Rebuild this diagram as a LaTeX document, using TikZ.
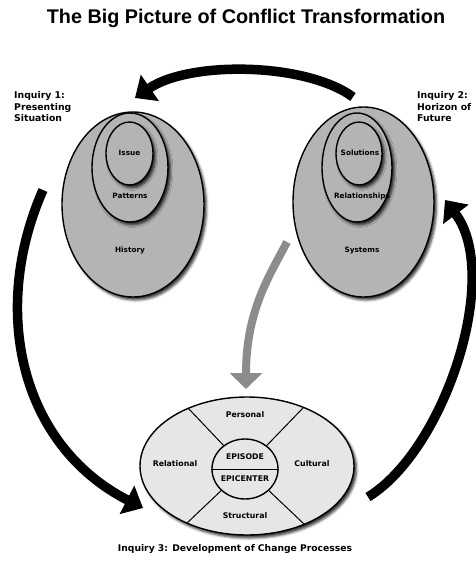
\documentclass[tikz,border=0pt]{standalone}
\usepackage{fontspec}
\setmainfont{DejaVu Sans}
\newfontfamily\titlefont{Liberation Sans}
\usetikzlibrary{shapes.geometric,arrows.meta,shadows.blur}
\definecolor{midgray}{HTML}{B4B4B4}
\definecolor{lightgray2}{HTML}{E6E6E6}
\definecolor{arrowgray}{HTML}{8C8C8C}
\begin{document}
\begin{tikzpicture}[x=1pt,y=-1pt,
  ell/.style={ellipse, draw=black, line width=1.4pt, inner sep=0pt},
  shad/.style={blur shadow={shadow xshift=2.5pt, shadow yshift=-3pt, shadow blur radius=2.5pt, shadow opacity=80}},
  grayell/.style={ell, shad, fill=midgray},
  lbl/.style={font=\bfseries\fontsize{7.3}{8}\selectfont, inner sep=0pt},
  blbl/.style={font=\bfseries\fontsize{7.8}{9}\selectfont, inner sep=0pt},
  inq/.style={font=\bfseries\fontsize{9.3}{11.5}\selectfont, align=left, anchor=north west, inner sep=0pt},
  bigarrow/.style={line width=9.5pt, -{Triangle[length=18pt,width=31pt]}},
  grayarrow/.style={line width=8pt, draw=arrowgray, -{Triangle[length=16pt,width=32pt]}},
  divline/.style={line width=1pt}
]
\useasboundingbox (0,0) rectangle (475,562);

% title
\node[font=\titlefont\bfseries\fontsize{19.8}{22}\selectfont, inner sep=0pt] (title) at (246,18.5) {The Big Picture of Conflict Transformation};

% inquiry labels
\node[inq] (inq1) at (14,91.5) {Inquiry 1:\\Presenting\\Situation};
\node[inq] (inq2) at (417,91.5) {Inquiry 2:\\Horizon of\\Future};

% arrows
\coordinate (t1) at (353,97);
\coordinate (t2) at (135,98);
\draw[bigarrow] (t1) .. controls (305,62) and (189,61) .. (t2);
\coordinate (l1) at (43,190);
\coordinate (l2) at (143,508);
\draw[bigarrow] (l1) .. controls (-10,310) and (20,445) .. (l2);
\coordinate (r1) at (368,497);
\coordinate (r2) at (445,200);
\draw[bigarrow] (r1) .. controls (445,450) and (502,275) .. (r2);
\coordinate (g1) at (287,242);
\coordinate (g2) at (246,389);
\draw[grayarrow] (g1) .. controls (270,275) and (246,310) .. (g2);

% left group
\node[grayell, minimum width=142pt, minimum height=185pt] (hist) at (133,204.5) {};
\node[grayell, minimum width=76pt, minimum height=109pt] (patt) at (130,167.5) {};
\node[grayell, minimum width=47pt, minimum height=63pt] (issue) at (129.5,153.5) {};
\node[lbl] (issuel) at (129.5,153) {Issue};
\node[lbl] (pattl) at (130,196) {Patterns};
\node[lbl] (histl) at (130,251) {History};

% right group
\node[grayell, minimum width=141pt, minimum height=190pt] (sys) at (363.5,202) {};
\node[grayell, minimum width=70pt, minimum height=109pt] (rel) at (357,167.5) {};
\node[grayell, minimum width=46pt, minimum height=63pt] (sol) at (359,153.5) {};
\node[lbl] (soll) at (360,153) {Solutions};
\node[lbl] (rell) at (362,196) {Relationships};
\node[lbl] (sysl) at (362,251) {Systems};

% bottom ellipse
\node[ell, shad, fill=lightgray2, minimum width=214pt, minimum height=138pt] (dev) at (247,466) {};
\begin{scope}
  \clip (247,466) ellipse [x radius=107, y radius=69];
  \draw[divline] (245,468) -- ++(-114,-120);
  \draw[divline] (245,468) -- ++(116,-120);
  \draw[divline] (245,468) -- ++(-116,110);
  \draw[divline] (245,468) -- ++(116,110);
\end{scope}
\node[ell, fill=lightgray2, minimum width=66pt, minimum height=60pt] (epi) at (245,469) {};
\draw[divline] (epi.west) -- (epi.east);
\node[blbl] (epis) at (245,457) {EPISODE};
\node[blbl] (epic) at (245,478.5) {EPICENTER};
\node[blbl] (pers) at (245,415) {Personal};
\node[blbl] (relat) at (175,464) {Relational};
\node[blbl] (cult) at (312,464) {Cultural};
\node[blbl] (struct) at (245,516) {Structural};

% caption
\node[font=\bfseries\fontsize{9.2}{11}\selectfont, inner sep=0pt] (cap) at (235,549) {Inquiry 3: Development of Change Processes};
\end{tikzpicture}
\end{document}
